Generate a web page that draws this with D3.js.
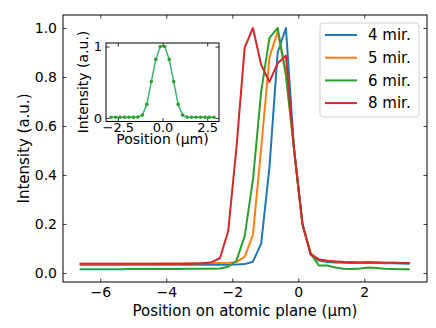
<!DOCTYPE html>
<html lang="en">
<head>
<meta charset="UTF-8">
<title>Intensity vs position</title>
<script src="https://d3js.org/d3.v7.min.js"></script>
<style>
  body { margin: 0; background: #fff; }
  svg { display: block; font-family: "DejaVu Sans", sans-serif; }
  .tick text { fill: #000; }
</style>
</head>
<body>
<div id="chart"></div>
<script>
// positions on the atomic plane (um)
const positions = [-6.625, -6.375, -6.125, -5.875, -5.625, -5.375, -5.125, -4.875, -4.625, -4.375,
  -4.125, -3.875, -3.625, -3.375, -3.125, -2.875, -2.625, -2.375, -2.125, -1.875,
  -1.625, -1.375, -1.125, -0.875, -0.625, -0.375, -0.125, 0.125, 0.375, 0.625,
  0.875, 1.125, 1.375, 1.625, 1.875, 2.125, 2.375, 2.625, 2.875, 3.125, 3.375];

const mir4 = [0.033, 0.033, 0.033, 0.033, 0.033, 0.033, 0.033, 0.033, 0.033, 0.033,
  0.033, 0.033, 0.033, 0.033, 0.033, 0.033, 0.033, 0.033, 0.033, 0.034,
  0.036, 0.046, 0.12, 0.43, 0.90, 1.0, 0.5, 0.2, 0.075, 0.05,
  0.045, 0.043, 0.042, 0.041, 0.041, 0.042, 0.041, 0.040, 0.040, 0.039, 0.038];

const mir5 = [0.038, 0.038, 0.038, 0.038, 0.038, 0.038, 0.038, 0.038, 0.038, 0.038,
  0.039, 0.039, 0.039, 0.040, 0.040, 0.040, 0.041, 0.041, 0.042, 0.044,
  0.066, 0.155, 0.51, 0.88, 0.985, 0.81, 0.5, 0.2, 0.08, 0.055,
  0.05, 0.047, 0.045, 0.044, 0.043, 0.044, 0.043, 0.042, 0.042, 0.041, 0.041];

const mir6 = [0.015, 0.015, 0.015, 0.015, 0.015, 0.015, 0.016, 0.016, 0.016, 0.016,
  0.016, 0.016, 0.016, 0.017, 0.017, 0.017, 0.017, 0.018, 0.025, 0.05,
  0.15, 0.38, 0.74, 0.96, 1.0, 0.81, 0.5, 0.2, 0.08, 0.03,
  0.03, 0.022, 0.017, 0.016, 0.018, 0.022, 0.02, 0.017, 0.016, 0.015, 0.015];

const mir8 = [0.037, 0.037, 0.037, 0.037, 0.037, 0.037, 0.037, 0.037, 0.037, 0.037,
  0.037, 0.037, 0.038, 0.038, 0.039, 0.040, 0.044, 0.06, 0.17, 0.51,
  0.92, 1.0, 0.85, 0.78, 0.856, 0.887, 0.5, 0.2, 0.075, 0.055,
  0.05, 0.047, 0.045, 0.044, 0.043, 0.044, 0.043, 0.042, 0.042, 0.041, 0.041];

const seriesNames = ["4 mir.", "5 mir.", "6 mir.", "8 mir."];
const seriesColors = ["#1f77b4", "#ff7f0e", "#2ca02c", "#d62728"];
const seriesValues = [mir4, mir5, mir6, mir8];

// inset profile
const insetPos = [-2.875, -2.625, -2.375, -2.125, -1.875, -1.625, -1.375, -1.125, -0.875, -0.625,
  -0.375, -0.125, 0.125, 0.375, 0.625, 0.875, 1.125, 1.375, 1.625, 1.875,
  2.125, 2.375, 2.625, 2.875];
const insetVal = [0.01, 0.01, 0.01, 0.01, 0.01, 0.01, 0.012, 0.04, 0.19, 0.51,
  0.82, 1.0, 1.0, 0.82, 0.51, 0.19, 0.04, 0.012, 0.01, 0.01,
  0.01, 0.01, 0.01, 0.01];

const mainTicksX = [-6, -4, -2, 0, 2];
const mainTicksY = [0, 0.2, 0.4, 0.6, 0.8, 1.0];
const insetTicksX = [-2.5, 0, 2.5];
const insetTicksY = [0, 1];

const W = 436, H = 328;
const plot = { left: 63, right: 427, top: 15, bottom: 282 };
const ins = { left: 106, right: 219, top: 43, bottom: 121.5 };

const svg = d3.select("#chart").append("svg")
  .attr("width", W).attr("height", H);

svg.append("rect").attr("width", W).attr("height", H).attr("fill", "#fff");

const x = d3.scaleLinear().domain([-7.13, 3.9]).range([plot.left, plot.right]);
const y = d3.scaleLinear().domain([-0.037, 1.053]).range([plot.bottom, plot.top]);

function drawAxes(g, xs, ys, box, xt, yt, xfmt, yfmt, fs, padX, padY) {
  const tl = 3.5;
  g.append("g").attr("transform", `translate(0,${box.bottom})`)
    .call(d3.axisBottom(xs).tickValues(xt).tickFormat(xfmt).tickSize(-tl).tickSizeOuter(0).tickPadding(padX))
    .call(a => a.select(".domain").remove());
  g.append("g").attr("transform", `translate(0,${box.top})`)
    .call(d3.axisTop(xs).tickValues(xt).tickFormat("").tickSize(-tl).tickSizeOuter(0))
    .call(a => a.select(".domain").remove());
  g.append("g").attr("transform", `translate(${box.left},0)`)
    .call(d3.axisLeft(ys).tickValues(yt).tickFormat(yfmt).tickSize(-tl).tickSizeOuter(0).tickPadding(padY))
    .call(a => a.select(".domain").remove());
  g.append("g").attr("transform", `translate(${box.right},0)`)
    .call(d3.axisRight(ys).tickValues(yt).tickFormat("").tickSize(-tl).tickSizeOuter(0))
    .call(a => a.select(".domain").remove());
  g.selectAll(".tick text").attr("font-size", fs).attr("font-family", "DejaVu Sans");
  g.selectAll(".tick line").attr("stroke", "#000").attr("stroke-width", 0.8);
  g.append("rect")
    .attr("x", box.left).attr("y", box.top)
    .attr("width", box.right - box.left).attr("height", box.bottom - box.top)
    .attr("fill", "none").attr("stroke", "#000").attr("stroke-width", 1);
}

// main lines
const line = d3.line().x(d => x(d[0])).y(d => y(d[1]));
const main = svg.append("g");
seriesValues.forEach((vals, i) => {
  main.append("path")
    .datum(positions.map((p, j) => [p, vals[j]]))
    .attr("fill", "none")
    .attr("stroke", seriesColors[i])
    .attr("stroke-width", 2)
    .attr("stroke-linejoin", "round")
    .attr("d", line);
});

drawAxes(svg.append("g"), x, y, plot, mainTicksX, mainTicksY, d3.format("d"), d3.format(".1f"), 14, 5, 6);

svg.append("text")
  .attr("x", 245).attr("y", 316)
  .attr("text-anchor", "middle").attr("font-size", 15)
  .text("Position on atomic plane (μm)");

svg.append("text")
  .attr("transform", `translate(29,${(plot.top + plot.bottom) / 2}) rotate(-90)`)
  .attr("text-anchor", "middle").attr("font-size", 15)
  .text("Intensity (a.u.)");

// legend
const leg = svg.append("g");
leg.append("rect")
  .attr("x", 320).attr("y", 23).attr("width", 99).attr("height", 94)
  .attr("rx", 3).attr("fill", "#fff").attr("fill-opacity", 0.8)
  .attr("stroke", "#d0d0d0").attr("stroke-width", 1);
seriesNames.forEach((name, i) => {
  const cy = 35 + i * 22.7;
  leg.append("line").attr("x1", 325).attr("x2", 357).attr("y1", cy).attr("y2", cy)
    .attr("stroke", seriesColors[i]).attr("stroke-width", 2);
  leg.append("text").attr("x", 368).attr("y", cy).attr("dy", "0.35em")
    .attr("font-size", 15).text(name);
});

// inset
const xi = d3.scaleLinear().domain([-3.16, 3.16]).range([ins.left, ins.right]);
const yi = d3.scaleLinear().domain([-0.05, 1.05]).range([ins.bottom, ins.top]);
const inset = svg.append("g");
inset.append("rect")
  .attr("x", ins.left).attr("y", ins.top)
  .attr("width", ins.right - ins.left).attr("height", ins.bottom - ins.top)
  .attr("fill", "#fff");
const iline = d3.line().x((d, j) => xi(insetPos[j])).y(d => yi(d));
inset.append("path").datum(insetVal)
  .attr("fill", "none").attr("stroke", "#3cb371").attr("stroke-width", 1.5)
  .attr("d", iline);
inset.selectAll("circle").data(insetVal).join("circle")
  .attr("cx", (d, j) => xi(insetPos[j])).attr("cy", d => yi(d))
  .attr("r", 1.8).attr("fill", "#2ca02c");
drawAxes(inset, xi, yi, ins, insetTicksX, insetTicksY, d3.format(".1f"), d3.format("d"), 13, 1, 4);

inset.append("text")
  .attr("x", (ins.left + ins.right) / 2).attr("y", 144)
  .attr("text-anchor", "middle").attr("font-size", 14)
  .text("Position (μm)");
inset.append("text")
  .attr("transform", `translate(88,82) rotate(-90)`)
  .attr("text-anchor", "middle").attr("font-size", 14)
  .text("Intensity (a.u.)");
</script>
</body>
</html>
